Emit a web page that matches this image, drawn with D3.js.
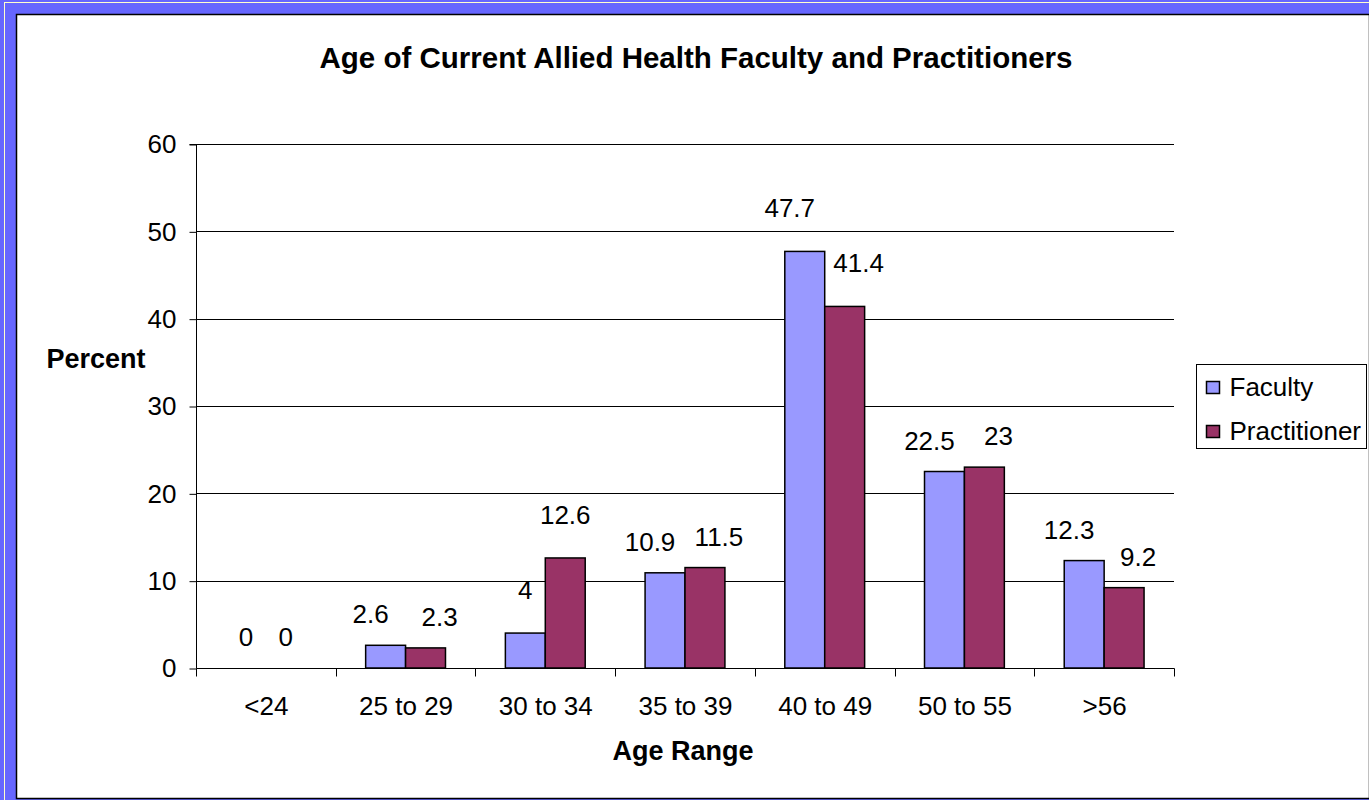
<!DOCTYPE html>
<html>
<head>
<meta charset="utf-8">
<script src="https://cdn.jsdelivr.net/npm/d3@7"></script>
<style>
  body { margin: 0; background: #fff; }
  svg { display: block; font-family: Arial, "Liberation Sans", sans-serif; }
</style>
</head>
<body>
<div id="chart"></div>
<script>
// chart data
const categories = ['<24', '25 to 29', '30 to 34', '35 to 39', '40 to 49', '50 to 55', '>56'];
const seriesNames = ['Faculty', 'Practitioner'];
const faculty = [0, 2.6, 4, 10.9, 47.7, 22.5, 12.3];
const practitioner = [0, 2.3, 12.6, 11.5, 41.4, 23, 9.2];
const yTicks = [0, 10, 20, 30, 40, 50, 60];
const colors = ['#9999FF', '#993366'];

const W = 1369, H = 800;
const plot = { left: 196, right: 1174, top: 144, bottom: 668 };
const fontSize = 26;

const svg = d3.select('#chart').append('svg')
    .attr('width', W)
    .attr('height', H);

// blue frame around the chart area
svg.append('rect').attr('width', W).attr('height', H).attr('fill', '#6666FF');
svg.append('line').attr('x1', 4.5).attr('x2', 4.5).attr('y1', 2).attr('y2', H)
    .attr('stroke', '#FFFFCC').attr('stroke-width', 1);
svg.append('line').attr('x1', 4).attr('x2', W).attr('y1', 2.5).attr('y2', 2.5)
    .attr('stroke', '#FFFFCC').attr('stroke-width', 1);
svg.append('rect')
    .attr('x', 16.5).attr('y', 14.5)
    .attr('width', W - 16).attr('height', 784)
    .attr('fill', '#fff').attr('stroke', '#000').attr('stroke-width', 1.5);

// scales
const x = d3.scaleBand()
    .domain(categories)
    .range([plot.left, plot.right])
    .padding(0);

const x1 = d3.scaleBand()
    .domain(seriesNames)
    .range([0, x.bandwidth()])
    .paddingInner(0)
    .paddingOuter(0.75);

const y = d3.scaleLinear()
    .domain([0, 60])
    .range([plot.bottom, plot.top]);

// gridlines
svg.append('g')
    .selectAll('line')
    .data(yTicks.filter(d => d > 0))
    .enter()
    .append('line')
    .attr('x1', plot.left).attr('x2', plot.right)
    .attr('y1', d => Math.round(y(d)) + 0.5).attr('y2', d => Math.round(y(d)) + 0.5)
    .attr('stroke', '#000').attr('stroke-width', 1);

// y axis
const yAxis = svg.append('g')
    .attr('transform', `translate(${plot.left + 0.5},0.5)`)
    .call(d3.axisLeft(y).tickValues(yTicks).tickSize(7).tickPadding(13));
yAxis.select('.domain').attr('d', `M-7,${y(60)}H0V${y(0)}`);
yAxis.selectAll('text')
    .attr('font-size', fontSize)
    .attr('font-family', 'Arial, "Liberation Sans", sans-serif')
    .attr('fill', '#000');

// x axis with ticks between categories
const xAxis = svg.append('g')
    .attr('transform', `translate(0.5,${plot.bottom + 0.5})`);
xAxis.append('line')
    .attr('x1', plot.left).attr('x2', plot.right)
    .attr('stroke', '#000');
xAxis.selectAll('.tk')
    .data(d3.range(categories.length + 1))
    .enter()
    .append('line')
    .attr('class', 'tk')
    .attr('x1', i => Math.round(plot.left + i * x.step()))
    .attr('x2', i => Math.round(plot.left + i * x.step()))
    .attr('y1', 0).attr('y2', 8)
    .attr('stroke', '#000');
xAxis.selectAll('text')
    .data(categories)
    .enter()
    .append('text')
    .attr('x', d => x(d) + x.bandwidth() / 2)
    .attr('y', 46)
    .attr('text-anchor', 'middle')
    .attr('font-size', fontSize)
    .text(d => d);

// bars
const rows = categories.map((c, i) => ({ cat: c, values: [faculty[i], practitioner[i]] }));

const groups = svg.append('g')
    .selectAll('g')
    .data(rows)
    .enter()
    .append('g')
    .attr('transform', d => `translate(${x(d.cat)},0)`);

groups.selectAll('rect')
    .data(d => d.values.map((v, j) => ({ v, j })).filter(d => d.v > 0))
    .enter()
    .append('rect')
    .attr('x', d => x1(seriesNames[d.j]))
    .attr('y', d => y(d.v))
    .attr('width', x1.bandwidth())
    .attr('height', d => y(0) - y(d.v))
    .attr('fill', d => colors[d.j])
    .attr('stroke', '#000')
    .attr('stroke-width', 1.5);

// value labels: check each pair of labels for crowding (against each other
// or against the neighbouring bar) and push them apart when needed
const labelGap = 22;
const capH = fontSize * 0.72;

function labelBoxes(values) {
    const measure = svg.append('text').attr('font-size', fontSize);
    const boxes = values.map((v, j) => {
        measure.text(v);
        const w = measure.node().getComputedTextLength();
        const cx = x1(seriesNames[j]) + x1.bandwidth() / 2;
        const base = y(v) - labelGap;
        return { x0: cx - w / 2, x1: cx + w / 2, y0: base - capH, y1: base };
    });
    measure.remove();
    return boxes;
}

function placeLabels(values) {
    const b = labelBoxes(values);
    const bars = values.map((v, j) => ({ x0: x1(seriesNames[j]), x1: x1(seriesNames[j]) + x1.bandwidth(), top: y(v) }));
    const vOverlap = b[0].y0 < b[1].y1 && b[1].y0 < b[0].y1;
    const crowded = vOverlap && b[1].x0 - b[0].x1 < 18;
    // a label running into the other bar of the pair
    const hitsBar = (lb, bar) => bar.top < lb.y1 && lb.x0 < bar.x1 + 4 && bar.x0 - 4 < lb.x1;
    const hit = hitsBar(b[1], bars[0]) || hitsBar(b[0], bars[1]);
    const buried = b[1].y0 > bars[0].top || b[0].y0 > bars[1].top;
    const shift = crowded || hit;
    return values.map((v, j) => ({
        v, j,
        dx: shift ? (j === 0 ? -15 : 14) : 0,
        dy: buried ? -12 : 0
    }));
}

groups.selectAll('text')
    .data(d => placeLabels(d.values))
    .enter()
    .append('text')
    .attr('x', d => x1(seriesNames[d.j]) + x1.bandwidth() / 2 + d.dx)
    .attr('y', d => y(d.v) - labelGap + d.dy)
    .attr('text-anchor', 'middle')
    .attr('font-size', fontSize)
    .text(d => d.v);

// titles
svg.append('text')
    .attr('x', 696).attr('y', 68)
    .attr('text-anchor', 'middle')
    .attr('font-size', 29.5).attr('font-weight', 'bold')
    .text('Age of Current Allied Health Faculty and Practitioners');

svg.append('text')
    .attr('x', 96).attr('y', 368)
    .attr('text-anchor', 'middle')
    .attr('font-size', 27).attr('font-weight', 'bold')
    .text('Percent');

svg.append('text')
    .attr('x', 683).attr('y', 760)
    .attr('text-anchor', 'middle')
    .attr('font-size', 27).attr('font-weight', 'bold')
    .text('Age Range');

// legend
const legend = svg.append('g').attr('transform', 'translate(1196.5,364.5)');
legend.append('rect')
    .attr('width', 170).attr('height', 84)
    .attr('fill', '#fff').attr('stroke', '#000');
const items = legend.selectAll('g')
    .data(seriesNames)
    .enter()
    .append('g')
    .attr('transform', (d, i) => `translate(10,${17 + i * 44})`);
items.append('rect')
    .attr('width', 13).attr('height', 12)
    .attr('fill', (d, i) => colors[i])
    .attr('stroke', '#000').attr('stroke-width', 1.5);
items.append('text')
    .attr('x', 23).attr('y', 14)
    .attr('font-size', fontSize)
    .text(d => d);
</script>
</body>
</html>
